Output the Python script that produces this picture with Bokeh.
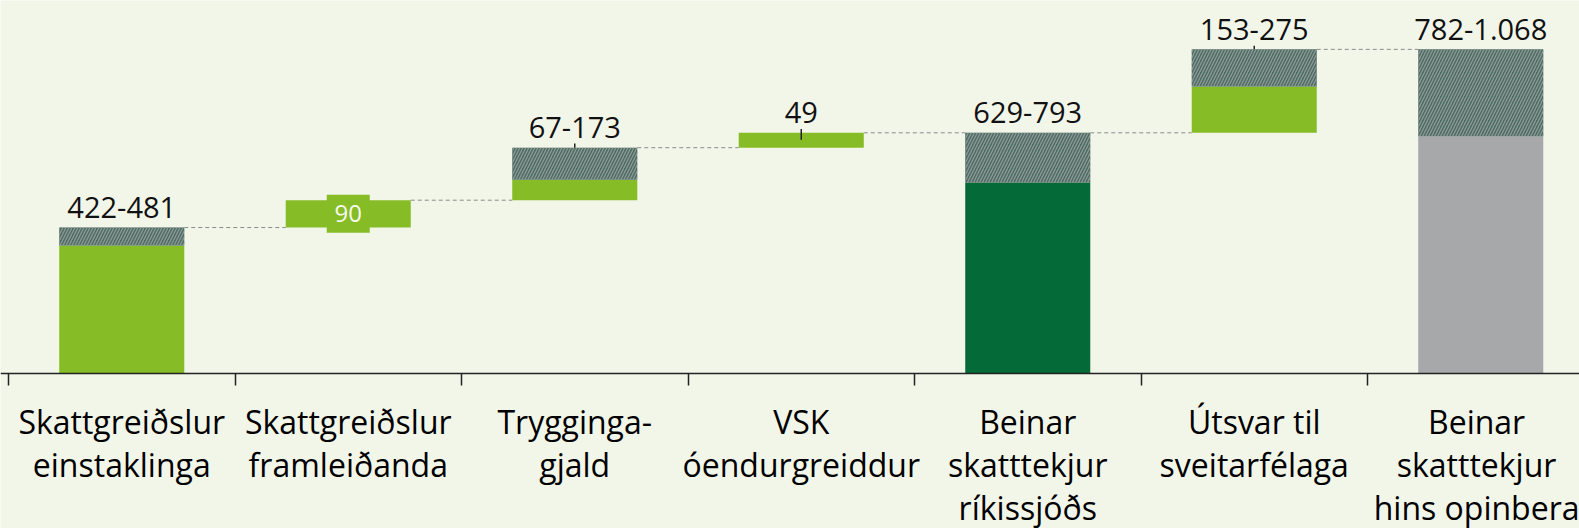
from bokeh.plotting import figure
from bokeh.models import Range1d, FixedTicker
from bokeh.core.properties import value
from bokeh.embed import file_html
from bokeh.resources import INLINE

# ---- data ----
categories = [
    "Skattgreiðslur\neinstaklinga",
    "Skattgreiðslur\nframleiðanda",
    "Trygginga-\ngjald",
    "VSK\nóendurgreiddur",
    "Beinar\nskatttekjur\nríkissjóðs",
    "Útsvar til\nsveitarfélaga",
    "Beinar\nskatttekjur\nhins opinbera",
]
low = [422, 90, 67, 49, 629, 153, 782]
high = [481, 90, 173, 49, 793, 275, 1068]
value_labels = ["422-481", "90", "67-173", "49", "629-793", "153-275", "782-1.068"]
is_total = [False, False, False, False, True, False, True]

# ---- styles ----
BG = "#F2F6E9"
LIGHT = "#86BC25"
DARK = "#046A38"
GREY = "#A7A8AA"
HATCH_FILL = "#4B6B62"
HATCH_LINE = "#8E9A95"
bar_colors = [LIGHT, LIGHT, LIGHT, LIGHT, DARK, LIGHT, GREY]
FONT = "Open Sans"
BAR_W = 0.552
CAT_PX = 226.5
LEFT_PAD = 8
PX_PER_UNIT = 0.3035
AXIS_FROM_TOP = 373

n = len(categories)
centers = [i + 0.5 for i in range(n)]

# waterfall geometry from the data
bases, tops = [], []
running = 0
for i in range(n):
    base = 0 if is_total[i] else running
    bases.append(base)
    tops.append(base + high[i])
    running = base + high[i]

solid_bottom = bases
solid_top = [b + l for b, l in zip(bases, low)]
h_idx = [i for i in range(n) if high[i] > low[i]]

W, H = 1579, 528
p = figure(
    width=W, height=H,
    x_range=Range1d(-LEFT_PAD / CAT_PX, (W - LEFT_PAD) / CAT_PX),
    y_range=Range1d(-(H - AXIS_FROM_TOP) / PX_PER_UNIT, AXIS_FROM_TOP / PX_PER_UNIT),
    output_backend="svg", toolbar_location=None, y_axis_location=None,
    min_border_left=0, min_border_right=0, min_border_top=0, min_border_bottom=0,
)
p.background_fill_color = BG
p.border_fill_color = BG
p.outline_line_color = None
p.xgrid.visible = False
p.ygrid.visible = False

# connectors
cx0 = [centers[i] + BAR_W / 2 for i in range(n - 1)]
cx1 = [centers[i + 1] - BAR_W / 2 for i in range(n - 1)]
cy = [tops[i] for i in range(n - 1)]
p.segment(x0=cx0, y0=cy, x1=cx1, y1=cy, line_color="#8C8C8C", line_width=1, line_dash="4 3")

# solid parts
p.vbar(x=centers, width=BAR_W, bottom=solid_bottom, top=solid_top,
       fill_color=bar_colors, line_color=None)
# hatched range parts
p.vbar(x=[centers[i] for i in h_idx], width=BAR_W,
       bottom=[solid_top[i] for i in h_idx], top=[tops[i] for i in h_idx],
       fill_color=HATCH_FILL, line_color=None,
       hatch_pattern="/", hatch_color=HATCH_LINE, hatch_scale=6, hatch_weight=1.3)

# leader ticks
lead = [2, 3, 5]
lead_up = {2: 14, 3: 13, 5: 12}
lead_dn = {2: 0, 3: 23, 5: 0}
p.segment(x0=[centers[i] for i in lead], y0=[tops[i] + lead_up[i] for i in lead],
          x1=[centers[i] for i in lead], y1=[tops[i] - lead_dn[i] for i in lead],
          line_color="#222222", line_width=1.5)

# value labels above bars
above = [i for i in range(n) if i != 1]
p.text(x=[centers[i] for i in above], y=[tops[i] for i in above],
       text=[value_labels[i] for i in above],
       text_align="center", text_baseline="alphabetic", y_offset=-20,
       text_font=value(FONT), text_font_size="29px", text_color="#111111")

# the boxed label inside the second bar
p.rect(x=[centers[1]], y=[(solid_bottom[1] + tops[1]) / 2], width=43, height=38,
       width_units="screen", height_units="screen", fill_color=LIGHT, line_color=None)
p.text(x=[centers[1]], y=[(solid_bottom[1] + tops[1]) / 2], text=[value_labels[1]],
       text_align="center", text_baseline="middle",
       text_font=value(FONT), text_font_size="24px", text_color="#F6F9EE")

# axis, fixed at zero
ax = p.xaxis[0]
ax.fixed_location = 0
ax.ticker = FixedTicker(ticks=centers, minor_ticks=list(range(n + 1)))
ax.major_label_overrides = {c: lab for c, lab in zip(centers, categories)}
ax.major_tick_in = 0
ax.major_tick_out = 0
ax.minor_tick_in = 0
ax.minor_tick_out = 12
ax.minor_tick_line_color = "#222222"
ax.minor_tick_line_width = 1.5
ax.axis_line_color = "#222222"
ax.axis_line_width = 1.5
ax.major_label_text_font = FONT
ax.major_label_text_font_size = "32px"
ax.major_label_text_color = "#000000"
ax.major_label_text_line_height = 1.0
ax.major_label_standoff = 14

open("out.html", "w").write(file_html(p, INLINE))
